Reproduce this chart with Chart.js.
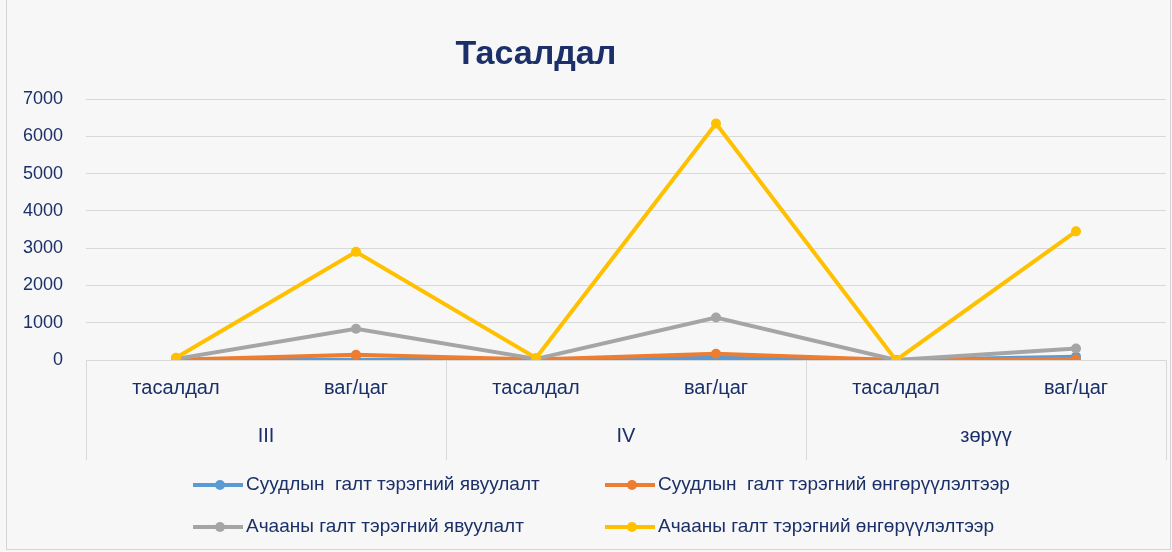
<!DOCTYPE html>
<html>
<head>
<meta charset="utf-8">
<script src="https://cdn.jsdelivr.net/npm/chart.js@4/dist/chart.umd.min.js"></script>
<style>
html,body{margin:0;padding:0;background:#f7f7f7;}
#wrap{position:absolute;left:0;top:0;width:1172px;height:552px;}
#frame{position:absolute;left:6px;top:0;width:1163px;height:549px;border-left:1px solid #d4d4d4;border-right:1px solid #d4d4d4;border-bottom:1px solid #d4d4d4;pointer-events:none;}
</style>
</head>
<body>
<div id="wrap"><canvas id="c" width="1172" height="552"></canvas><div id="frame"></div></div>
<script>
const chartTitle = 'Тасалдал';
const categories = ['тасалдал', 'ваг/цаг', 'тасалдал', 'ваг/цаг', 'тасалдал', 'ваг/цаг'];
const groups = ['III', 'IV', 'зөрүү'];
const seriesNames = [
  'Суудлын  галт тэрэгний явуулалт',
  'Суудлын  галт тэрэгний өнгөрүүлэлтээр',
  'Ачааны галт тэрэгний явуулалт',
  'Ачааны галт тэрэгний өнгөрүүлэлтээр'
];
const passengerDispatch = [5, 10, 6, 60, 1, 90];
const passengerTransit = [10, 140, 12, 170, 2, 20];
const freightDispatch = [30, 840, 30, 1140, 0, 310];
const freightTransit = [60, 2900, 55, 6340, -5, 3450];
const yTicks = [0, 1000, 2000, 3000, 4000, 5000, 6000, 7000];
const colors = ['#5B9BD5', '#ED7D31', '#A5A5A5', '#FFC000'];
const textColor = '#1b3068';
const gridColor = '#d9d9d9';
const fontFamily = '"Liberation Sans", Arial, sans-serif';

const seriesValues = [passengerDispatch, passengerTransit, freightDispatch, freightTransit];
const drawOrder = [3, 2, 1, 0];

const datasets = seriesValues.map((vals, i) => ({
  label: seriesNames[i],
  data: vals,
  borderColor: colors[i],
  backgroundColor: colors[i],
  pointBackgroundColor: colors[i],
  pointBorderColor: colors[i],
  borderWidth: 4,
  pointRadius: 5,
  pointBorderWidth: 0,
  tension: 0,
  order: drawOrder[i],
  xAxisID: 'x'
}));

const titlePlugin = {
  id: 'customTitle',
  afterDraw(chart) {
    const ctx = chart.ctx;
    ctx.save();
    ctx.font = 'bold 34px ' + fontFamily;
    ctx.fillStyle = textColor;
    ctx.textAlign = 'center';
    ctx.textBaseline = 'middle';
    ctx.fillText(chartTitle, 536, 55);
    ctx.restore();
  }
};

const separatorPlugin = {
  id: 'groupSeparators',
  afterDraw(chart) {
    const x = chart.scales.x, x2 = chart.scales.x2;
    const ctx = chart.ctx;
    const half = (x.getPixelForValue(1) - x.getPixelForValue(0)) / 2;
    ctx.save();
    ctx.strokeStyle = gridColor;
    ctx.lineWidth = 1;
    for (let i = 0; i <= categories.length; i += 2) {
      const px = Math.round(x.getPixelForValue(Math.min(i, categories.length - 1)) + (i === categories.length ? half : -half)) + 0.5;
      ctx.beginPath();
      ctx.moveTo(px, chart.chartArea.bottom);
      ctx.lineTo(px, x2.bottom);
      ctx.stroke();
    }
    ctx.restore();
  }
};

const legendPlugin = {
  id: 'gridLegend',
  afterDraw(chart) {
    const ctx = chart.ctx;
    const colX = [193, 605];
    const rowY = [485, 527];
    ctx.save();
    ctx.font = '19px ' + fontFamily;
    ctx.textBaseline = 'middle';
    chart.data.datasets.forEach((ds, i) => {
      const cx = colX[i % 2], cy = rowY[Math.floor(i / 2)];
      ctx.strokeStyle = ds.borderColor;
      ctx.lineWidth = 4;
      ctx.beginPath();
      ctx.moveTo(cx, cy);
      ctx.lineTo(cx + 50, cy);
      ctx.stroke();
      ctx.fillStyle = ds.borderColor;
      ctx.beginPath();
      ctx.arc(cx + 27, cy, 5, 0, Math.PI * 2);
      ctx.fill();
      ctx.fillStyle = textColor;
      ctx.textAlign = 'left';
      ctx.fillText(ds.label, cx + 53, cy);
    });
    ctx.restore();
  }
};

new Chart(document.getElementById('c'), {
  type: 'line',
  data: { labels: categories, datasets },
  plugins: [titlePlugin, separatorPlugin, legendPlugin],
  options: {
    responsive: false,
    animation: false,
    devicePixelRatio: 1,
    layout: { padding: { top: 99, right: 6, bottom: 92, left: 0 } },
    plugins: { legend: { display: false }, title: { display: false }, tooltip: { enabled: false } },
    scales: {
      y: {
        min: 0, max: 7000,
        afterBuildTicks(scale) { scale.ticks = yTicks.map(v => ({ value: v })); },
        afterFit(scale) { scale.width = 86; },
        grid: { color: gridColor, drawTicks: false },
        border: { display: false },
        ticks: { color: textColor, padding: 23, callback: v => String(v), font: { family: fontFamily, size: 18 } }
      },
      x: {
        type: 'category',
        position: 'bottom',
        offset: true,
        afterFit(scale) { scale.height = 48; },
        grid: { display: false, drawTicks: false },
        border: { display: true, color: gridColor },
        ticks: { color: textColor, padding: 16, maxRotation: 0, autoSkip: false, font: { family: fontFamily, size: 20 } }
      },
      x2: {
        type: 'category',
        labels: groups,
        position: 'bottom',
        offset: true,
        afterFit(scale) { scale.height = 52; },
        grid: { display: false, drawTicks: false },
        border: { display: false },
        ticks: { color: textColor, padding: 16, maxRotation: 0, autoSkip: false, font: { family: fontFamily, size: 20 } }
      }
    }
  }
});
</script>
</body>
</html>
